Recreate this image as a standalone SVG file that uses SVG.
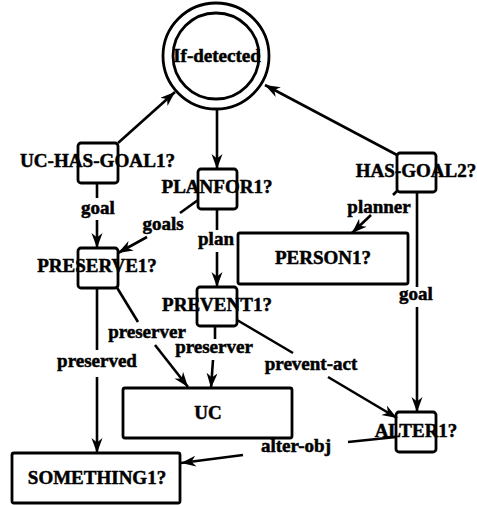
<svg xmlns="http://www.w3.org/2000/svg" width="477" height="505" viewBox="0 0 477 505">
<defs>
<style>
.n{fill:none;stroke:#000;stroke-width:2.8}
.t{font-family:"Liberation Serif","Times New Roman",serif;font-weight:bold;font-size:19px;fill:#000;stroke:#000;stroke-width:0.5;text-anchor:middle}
.e{fill:none;stroke:#000;stroke-width:2.6}
.a{marker-end:url(#ah)}
</style>
<marker id="ah" markerUnits="userSpaceOnUse" markerWidth="18" markerHeight="12" refX="15" refY="5.5" orient="auto">
<path d="M0,0 L15,5.5 L0,11 L4.5,5.5 z" fill="#000"/>
</marker>
</defs>
<rect width="477" height="505" fill="#fff"/>
<g id="connectors">
<line class="e a" x1="118" y1="143" x2="175" y2="92"/>
<line class="e a" x1="397" y1="155" x2="265" y2="85"/>
<line class="e a" x1="217" y1="109" x2="217" y2="169"/>
<line class="e" x1="97" y1="183" x2="97" y2="198"/>
<line class="e a" x1="97" y1="220" x2="97" y2="248"/>
<line class="e" x1="198" y1="200" x2="180" y2="213"/>
<line class="e a" x1="147" y1="237" x2="118" y2="253"/>
<line class="e" x1="217" y1="209" x2="217" y2="230"/>
<line class="e a" x1="217" y1="252" x2="217" y2="287"/>
<line class="e" x1="397" y1="191" x2="393" y2="195"/>
<line class="e a" x1="371" y1="215" x2="352" y2="233"/>
<line class="e" x1="417" y1="192" x2="417" y2="287"/>
<line class="e a" x1="417" y1="307" x2="417" y2="412"/>
<line class="e" x1="116" y1="286" x2="138" y2="322"/>
<line class="e a" x1="155" y1="345" x2="188" y2="387"/>
<line class="e" x1="215" y1="326" x2="215" y2="339"/>
<line class="e a" x1="213" y1="360" x2="211" y2="388"/>
<line class="e" x1="237" y1="320" x2="293" y2="353"/>
<line class="e a" x1="328" y1="377" x2="397" y2="418"/>
<line class="e" x1="97" y1="288" x2="97" y2="350"/>
<line class="e a" x1="97" y1="377" x2="97" y2="453"/>
<line class="e" x1="396" y1="437" x2="348" y2="442"/>
<line class="e a" x1="243" y1="455" x2="181" y2="463"/>
<text class="t" x="98" y="214">goal</text>
<text class="t" x="163" y="230">goals</text>
<text class="t" x="216" y="245">plan</text>
<text class="t" x="379" y="213">planner</text>
<text class="t" x="416" y="300">goal</text>
<text class="t" x="97" y="367">preserved</text>
<text class="t" x="147" y="338">preserver</text>
<text class="t" x="214" y="353">preserver</text>
<text class="t" x="311" y="370">prevent-act</text>
<text class="t" x="296" y="452">alter-obj</text>
</g>
<g id="if-detected">
<circle class="n" cx="216" cy="56" r="53" stroke-width="3"/>
<circle class="n" cx="216" cy="56" r="43" stroke-width="3"/>
<text class="t" x="217" y="62">If-detected</text>
</g>
<g id="uc-has-goal1">
<rect class="n" x="78" y="143" width="40" height="40" rx="3"/>
<text class="t" x="97.5" y="167" textLength="155" lengthAdjust="spacingAndGlyphs">UC-HAS-GOAL1?</text>
</g>
<g id="planfor1">
<rect class="n" x="198" y="169" width="39" height="40" rx="3"/>
<text class="t" x="217" y="193">PLANFOR1?</text>
</g>
<g id="has-goal2">
<rect class="n" x="397" y="153" width="39" height="39" rx="3"/>
<text class="t" x="416" y="177">HAS-GOAL2?</text>
</g>
<g id="preserve1">
<rect class="n" x="78" y="248" width="40" height="40" rx="3"/>
<text class="t" x="97" y="272">PRESERVE1?</text>
</g>
<g id="person1">
<rect class="n" x="238" y="233" width="170" height="51" rx="2"/>
<text class="t" x="323" y="264">PERSON1?</text>
</g>
<g id="prevent1">
<rect class="n" x="197" y="287" width="40" height="39" rx="3"/>
<text class="t" x="217" y="311">PREVENT1?</text>
</g>
<g id="uc">
<rect class="n" x="123" y="388" width="169" height="50" rx="2"/>
<text class="t" x="208" y="419">UC</text>
</g>
<g id="alter1">
<rect class="n" x="396" y="412" width="40" height="40" rx="3"/>
<text class="t" x="416" y="437">ALTER1?</text>
</g>
<g id="something1">
<rect class="n" x="12" y="453" width="168" height="50" rx="2"/>
<text class="t" x="97" y="484">SOMETHING1?</text>
</g>
</svg>
